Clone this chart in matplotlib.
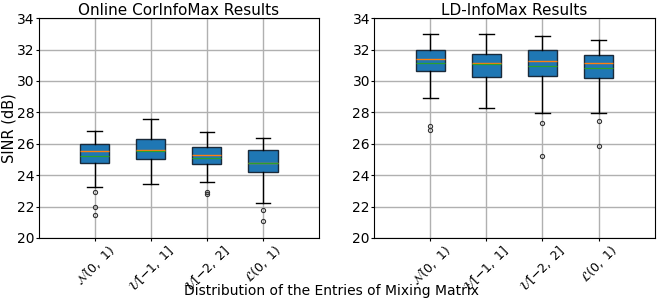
import matplotlib
matplotlib.use('agg')
import matplotlib.pyplot as plt

# distributions of the mixing matrix entries
labels = [r'$\mathcal{N}(0,\ 1)$', r'$\mathcal{U}[-1,\ 1]$',
          r'$\mathcal{U}[-2,\ 2]$', r'$\mathcal{L}(0,\ 1)$']

# Online CorInfoMax box statistics
cor_whislo = [23.27, 23.44, 23.58, 22.21]
cor_q1 = [24.79, 25.03, 24.71, 24.20]
cor_med = [25.51, 25.60, 25.28, 24.77]
cor_mean = [25.24, 25.57, 25.09, 24.75]
cor_q3 = [25.98, 26.30, 25.81, 25.60]
cor_whishi = [26.79, 27.59, 26.72, 26.38]
cor_fliers = [[22.93, 21.95, 21.48], [], [22.93, 22.78], [21.80, 21.06]]

# LD-InfoMax box statistics
ld_whislo = [28.91, 28.27, 27.98, 27.98]
ld_q1 = [30.63, 30.25, 30.31, 30.16]
ld_med = [31.37, 31.14, 31.26, 31.14]
ld_mean = [31.12, 31.05, 30.92, 30.82]
ld_q3 = [31.96, 31.69, 31.94, 31.65]
ld_whishi = [32.98, 32.98, 32.88, 32.60]
ld_fliers = [[27.10, 26.88], [], [27.30, 25.20], [27.47, 25.83]]


def make_stats(whislo, q1, med, mean, q3, whishi, fliers):
    stats = []
    for i in range(len(med)):
        stats.append(dict(whislo=whislo[i], q1=q1[i], med=med[i], mean=mean[i],
                          q3=q3[i], whishi=whishi[i], fliers=fliers[i]))
    return stats


def draw_panel(ax, stats, title):
    ax.set_axisbelow(True)
    ax.grid(True, color='#b0b0b0', linewidth=1.0)
    ax.bxp(stats, positions=[1, 2, 3, 4], widths=0.52, patch_artist=True,
           showmeans=True, meanline=True,
           boxprops=dict(facecolor='#1f77b4', edgecolor='#1a2a3a'),
           medianprops=dict(color='#ff7f0e', linewidth=1.0),
           meanprops=dict(color='#2ca02c', linestyle='-', linewidth=0.9),
           flierprops=dict(marker='o', markersize=3, markerfacecolor='none',
                           markeredgecolor='#333333', markeredgewidth=0.8))
    ax.set_xlim(0, 5)
    ax.set_ylim(20, 34)
    ax.set_yticks(range(20, 35, 2))
    ax.set_xticks([1, 2, 3, 4])
    ax.set_xticklabels(labels, rotation=45, fontsize=9)
    ax.tick_params(axis='both', length=2, pad=1)
    ax.tick_params(axis='y', labelsize=10)
    ax.set_title(title, fontsize=11, pad=2)


fig, (ax1, ax2) = plt.subplots(1, 2, figsize=(6.64, 3.02), dpi=100)
plt.subplots_adjust(left=0.058, right=0.986, top=0.94, bottom=0.212, wspace=0.196)

draw_panel(ax1, make_stats(cor_whislo, cor_q1, cor_med, cor_mean, cor_q3,
                           cor_whishi, cor_fliers), 'Online CorInfoMax Results')
draw_panel(ax2, make_stats(ld_whislo, ld_q1, ld_med, ld_mean, ld_q3,
                           ld_whishi, ld_fliers), 'LD-InfoMax Results')

ax1.set_ylabel('SINR (dB)', fontsize=10.5, labelpad=0)
fig.text(0.5, 0.012, 'Distribution of the Entries of Mixing Matrix',
         ha='center', va='bottom', fontsize=10)

plt.savefig('out.png')
